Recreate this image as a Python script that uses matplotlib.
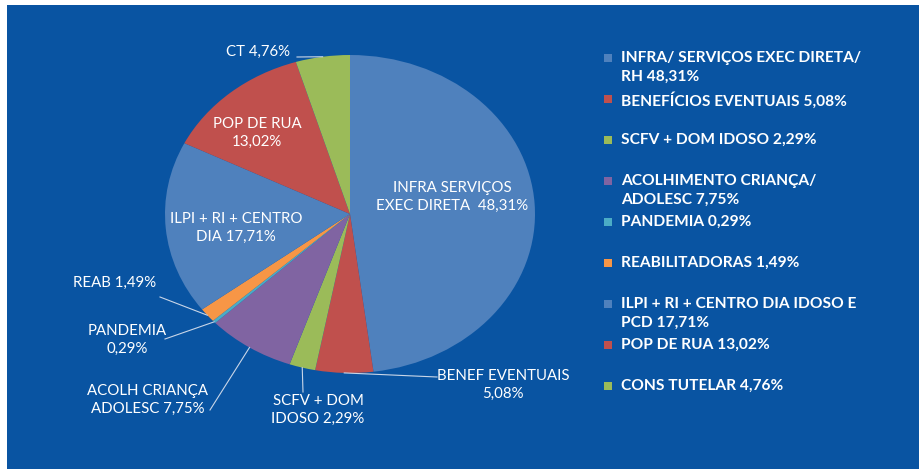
import matplotlib
matplotlib.use("Agg")
import matplotlib.pyplot as plt
from matplotlib.patches import Rectangle
import numpy as np

plt.rcParams['font.family'] = ['Lato', 'DejaVu Sans']

# dados
valores = [48.31, 5.08, 2.29, 7.75, 0.29, 1.49, 17.71, 13.02, 4.76]
cores = ['#4F81BD', '#C0504D', '#9BBB59', '#8064A2', '#4BACC6',
         '#F79646', '#4F81BD', '#C0504D', '#9BBB59']
rotulos = ['INFRA SERVIÇOS\nEXEC DIRETA  48,31%', 'BENEF EVENTUAIS\n5,08%',
           'SCFV + DOM\nIDOSO 2,29%', 'ACOLH CRIANÇA\nADOLESC 7,75%',
           'PANDEMIA\n0,29%', 'REAB 1,49%', 'ILPI + RI + CENTRO\nDIA 17,71%',
           'POP DE RUA\n13,02%', 'CT 4,76%']
legenda = ['INFRA/ SERVIÇOS EXEC DIRETA/\nRH 48,31%', 'BENEFÍCIOS EVENTUAIS 5,08%',
           'SCFV + DOM IDOSO 2,29%', 'ACOLHIMENTO CRIANÇA/\nADOLESC 7,75%',
           'PANDEMIA 0,29%', 'REABILITADORAS 1,49%',
           'ILPI + RI + CENTRO DIA IDOSO E\nPCD 17,71%', 'POP DE RUA 13,02%',
           'CONS TUTELAR 4,76%']

W, H = 920, 469
fig = plt.figure(figsize=(W / 100, H / 100), dpi=100, facecolor='white')
fundo = '#0954A2'
fig.patches.append(Rectangle((7 / W, 0), 1 - 7 / W, 1 - 5 / H, transform=fig.transFigure,
                             facecolor=fundo, edgecolor='none', zorder=-5))


def px(x, y):
    return (x / W, 1 - y / H)


# pizza eliptica
cx, cy, a, b = 350, 214, 185, 159
ax = fig.add_axes([(cx - a) / W, 1 - (cy + b) / H, 2 * a / W, 2 * b / H])
ax.set_zorder(1)
ax.set_facecolor('none')
wedges, _ = ax.pie(valores, colors=cores, startangle=90, counterclock=False,
                   wedgeprops=dict(linewidth=0))
ax.set_aspect('auto')
ax.set_xlim(-1, 1)
ax.set_ylim(-1, 1)
ax.axis('off')

# posicao dos rotulos (pixels) e ponto final da linha guia
pos_rot = [(452, 197, None), (503, 385, (437, 377)), (318, 410, (303, 392)),
           (148, 400, (210, 410)), (127, 340, (165, 339)), (115, 283, (160, 297)),
           (236, 228, None), (257, 133, None), (258, 52, (297, 57))]

inv = fig.transFigure.inverted()
for w, txt, (tx, ty, fim) in zip(wedges, rotulos, pos_rot):
    fig.text(*px(tx, ty), txt, color='white', fontsize=10.8, ha='center', va='center',
             multialignment='center', linespacing=1.35, zorder=5)
    if fim is not None:
        ang = np.deg2rad((w.theta1 + w.theta2) / 2)
        p0 = ax.transData.transform((np.cos(ang), np.sin(ang)))
        q0 = inv.transform(p0)
        q1 = px(*fim)
        fig.add_artist(plt.Line2D([q0[0], q1[0]], [q0[1], q1[1]], color='#C9D6E8',
                                  linewidth=0.8, transform=fig.transFigure, zorder=5))

# legenda
for i, (txt, c) in enumerate(zip(legenda, cores)):
    y = 58 + i * 41.0
    fig.patches.append(Rectangle(px(604, y + 4), 8 / W, 8 / H, transform=fig.transFigure,
                                 facecolor=c, edgecolor='none', zorder=2))
    fig.text(*px(621, y - 7), txt, color='white', fontsize=11.2, fontweight='bold',
             ha='left', va='top', linespacing=1.42)

fig.savefig('out.png', dpi=100, facecolor=fig.get_facecolor())
